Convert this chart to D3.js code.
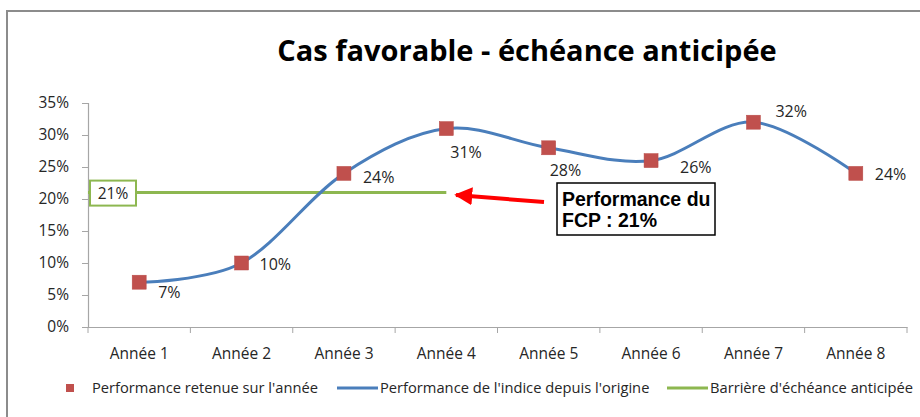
<!DOCTYPE html>
<html>
<head>
<meta charset="utf-8">
<script src="https://cdn.jsdelivr.net/npm/d3@7"></script>
<style>
  body { margin: 0; background: #fff; }
  svg { display: block; }
</style>
</head>
<body>
<svg id="chart" width="920" height="417"></svg>
<script>
// data
const categories = ['Année 1', 'Année 2', 'Année 3', 'Année 4', 'Année 5', 'Année 6', 'Année 7', 'Année 8'];
const perfValues = [7, 10, 24, 31, 28, 26, 32, 24];
const barrierValue = 21;
const barrierEnd = 'Année 4';
const yTicks = [0, 5, 10, 15, 20, 25, 30, 35];
const legendLabels = ["Performance retenue sur l'année", "Performance de l'indice depuis l'origine", "Barrière d'échéance anticipée"];

// label offsets (px, from marker centre), placed by hand like in the original
const labelOffsets = [[19, 16], [18, 7], [19, 10], [4, 29], [1, 28], [29, 12], [22, -5], [19, 7]];

const style = {
  font: 'Open Sans, DejaVu Sans, sans-serif',
  axisColor: '#a6a6a6',
  textColor: '#262626',
  lineColor: '#4a7ebb',
  markerColor: '#c0504d',
  barrierColor: '#8db750',
  markerSize: 14
};

const svg = d3.select('#chart');
const W = 920, H = 417;
const margin = { left: 88, right: 13, top: 103, bottom: 90 };

// frame
svg.append('path')
  .attr('d', `M7,${H} L7,11 L${W},11`)
  .attr('fill', 'none')
  .attr('stroke', '#8c8c8c')
  .attr('stroke-width', 2);

svg.append('text')
  .attr('x', 527).attr('y', 61)
  .attr('text-anchor', 'middle')
  .style('font-family', 'Open Sans, sans-serif')
  .style('font-weight', 'bold')
  .style('font-size', '29px')
  .attr('fill', '#000')
  .text('Cas favorable - échéance anticipée');

const xScale = d3.scaleBand()
  .domain(categories)
  .range([margin.left, W - margin.right]);

const yScale = d3.scaleLinear()
  .domain([0, 35])
  .range([H - margin.bottom, margin.top]);

const cx = c => xScale(c) + xScale.bandwidth() / 2;

// y axis
const yAxis = d3.axisLeft(yScale).tickValues(yTicks).tickSize(6).tickPadding(13).tickFormat(d => d + '%');
const yAxisSel = svg.append('g')
  .attr('transform', `translate(${margin.left},0)`)
  .call(yAxis);

// x axis, ticks at category boundaries
const xAxisSel = svg.append('g')
  .attr('transform', `translate(0,${yScale(0)})`)
  .call(d3.axisBottom(xScale).tickSize(0).tickPadding(21));

xAxisSel.selectAll('.boundary')
  .data(d3.range(categories.length + 1))
  .enter()
  .append('line')
    .attr('x1', i => margin.left + i * xScale.bandwidth())
    .attr('x2', i => margin.left + i * xScale.bandwidth())
    .attr('y1', 0).attr('y2', 6)
    .attr('stroke', style.axisColor);

[yAxisSel, xAxisSel].forEach(sel => {
  sel.select('.domain').attr('stroke', style.axisColor).attr('stroke-width', 1.2);
  sel.selectAll('.tick line').attr('stroke', style.axisColor);
  sel.selectAll('.tick text')
    .attr('fill', style.textColor)
    .style('font-family', style.font)
    .style('font-size', '15.5px');
});

// barrier line + label box
const barrierY = yScale(barrierValue);
svg.append('line')
  .attr('x1', margin.left).attr('x2', cx(barrierEnd))
  .attr('y1', barrierY).attr('y2', barrierY)
  .attr('stroke', style.barrierColor)
  .attr('stroke-width', 3);

svg.append('rect')
  .attr('x', 90).attr('y', barrierY - 12)
  .attr('width', 46).attr('height', 25)
  .attr('fill', '#fff')
  .attr('stroke', style.barrierColor)
  .attr('stroke-width', 2);
svg.append('text')
  .attr('x', 113).attr('y', barrierY + 6)
  .attr('text-anchor', 'middle')
  .style('font-family', style.font)
  .style('font-size', '15.5px')
  .attr('fill', style.textColor)
  .text(barrierValue + '%');

// smoothed index line
const lineGen = d3.line()
  .curve(d3.curveCardinal.tension(0))
  .x((d, i) => cx(categories[i]))
  .y(d => yScale(d));

svg.append('path')
  .attr('d', lineGen(perfValues))
  .attr('fill', 'none')
  .attr('stroke', style.lineColor)
  .attr('stroke-width', 3)
  .style('stroke-linecap', 'round');

// markers
svg.selectAll('rect.marker')
  .data(perfValues)
  .enter()
  .append('rect')
    .attr('class', 'marker')
    .attr('x', (d, i) => cx(categories[i]) - style.markerSize / 2)
    .attr('y', d => yScale(d) - style.markerSize / 2)
    .attr('width', style.markerSize)
    .attr('height', style.markerSize)
    .attr('fill', style.markerColor)
    .attr('stroke', '#b84a47')
    .attr('stroke-width', 0.5);

svg.selectAll('text.val')
  .data(perfValues)
  .enter()
  .append('text')
    .attr('class', 'val')
    .attr('x', (d, i) => cx(categories[i]) + labelOffsets[i][0])
    .attr('y', (d, i) => yScale(d) + labelOffsets[i][1])
    .style('font-family', style.font)
    .style('font-size', '16px')
    .attr('fill', style.textColor)
    .text(d => d + '%');

// red arrow
svg.append('defs').append('marker')
  .attr('id', 'arrowhead')
  .attr('viewBox', '0 0 10 10')
  .attr('refX', 9).attr('refY', 5)
  .attr('markerWidth', 4.5).attr('markerHeight', 4.5)
  .attr('orient', 'auto')
  .append('path')
    .attr('d', 'M0,0 L10,5 L0,10 Z')
    .attr('fill', '#ff0000');

svg.append('line')
  .attr('x1', 544).attr('y1', 202)
  .attr('x2', 456).attr('y2', 195)
  .attr('stroke', '#ff0000')
  .attr('stroke-width', 4)
  .attr('marker-end', 'url(#arrowhead)');

// callout
svg.append('rect')
  .attr('x', 557).attr('y', 183)
  .attr('width', 158).attr('height', 52)
  .attr('fill', '#fff')
  .attr('stroke', '#000')
  .attr('stroke-width', 1.5);

const callout = svg.append('text')
  .style('font-family', 'Liberation Sans, Arial, sans-serif')
  .style('font-weight', 'bold')
  .style('font-size', '19.5px')
  .attr('fill', '#000');
callout.append('tspan').attr('x', 562).attr('y', 206).text('Performance du');
callout.append('tspan').attr('x', 562).attr('y', 227).text('FCP : ' + barrierValue + '%');

// legend
const legend = svg.append('g')
  .style('font-family', style.font)
  .style('font-size', '14.7px')
  .attr('fill', style.textColor);
const ly = 388;

legend.append('rect')
  .attr('x', 66).attr('y', ly - 4)
  .attr('width', 8).attr('height', 8)
  .attr('fill', style.markerColor);
legend.append('text').attr('x', 92).attr('y', ly + 5).text(legendLabels[0]);

legend.append('line')
  .attr('x1', 337).attr('x2', 378).attr('y1', ly).attr('y2', ly)
  .attr('stroke', style.lineColor).attr('stroke-width', 3);
legend.append('text').attr('x', 380).attr('y', ly + 5).text(legendLabels[1]);

legend.append('line')
  .attr('x1', 667).attr('x2', 708).attr('y1', ly).attr('y2', ly)
  .attr('stroke', style.barrierColor).attr('stroke-width', 3);
legend.append('text').attr('x', 710).attr('y', ly + 5).text(legendLabels[2]);
</script>
</body>
</html>
